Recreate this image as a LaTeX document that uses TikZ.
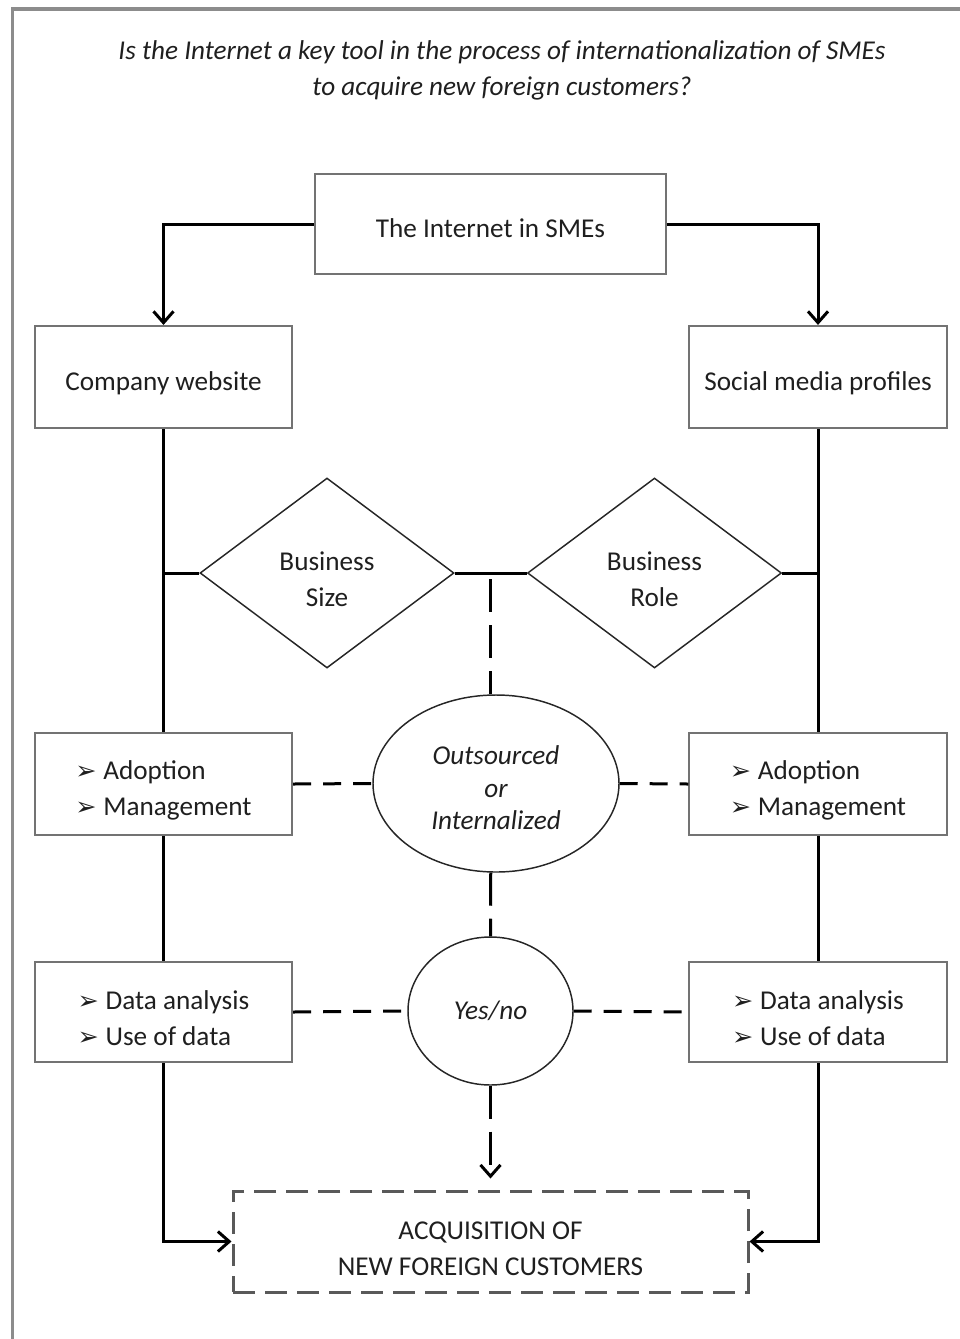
\documentclass[tikz,border=0pt]{standalone}
\usepackage{fontspec}
\setmainfont{Carlito}
\newfontfamily\dejavu{DejaVu Sans}
\usetikzlibrary{shapes.geometric,arrows.meta,calc}
\newcommand{\bulx}{\smash{\dejavu\fontsize{19}{19}\selectfont ➢}\hspace{5pt}}
\newcommand{\dn}{\rule{0pt}{24pt}}
\begin{document}
\begin{tikzpicture}[x=0.75pt,y=-0.75pt,
  every node/.style={font=\fontsize{20.4}{27}\selectfont, text=black!88},
  box/.style={draw=black!55, line width=1.6pt, rectangle, inner sep=2pt},
  sidebox/.style={box, minimum width=193pt, minimum height=76.5pt},
  dec/.style={draw=black!85, line width=1.1pt, diamond, inner sep=0pt, minimum width=190.5pt, minimum height=142.5pt, align=center},
  oval/.style={draw=black!85, line width=1.1pt, ellipse, inner sep=0pt, align=center, font=\fontsize{20.4}{27}\selectfont\itshape},
  conn/.style={draw=black, line width=2.25pt},
  tip/.style={-{Straight Barb[length=8.5pt,width=15pt]}},
  dshh/.style={draw=black, line width=2.25pt, dash pattern=on 13.5pt off 9pt},
  dshv/.style={draw=black, line width=2.25pt, dash pattern=on 24.75pt off 9.75pt}
]
\useasboundingbox (0,0) rectangle (960,1339);
\draw[draw=black!45, line width=2.4pt] (12.5,1345) -- (12.5,9) -- (965,9);

\node[align=center, font=\fontsize{20.4}{27}\selectfont\itshape] (title) at (502,70.5)
  {Is the Internet a key tool in the process of internationalization of SMEs\\to acquire new foreign customers?};

\node[box, minimum width=263.25pt, minimum height=75pt] (top) at (490.5,224) {\rule{0pt}{21pt}The Internet in SMEs};
\node[sidebox] (cw) at (163.5,377) {\dn Company website};
\node[sidebox] (sm) at (818,377) {\dn Social media profiles};

\node[dec] (bs) at (327,573) {\dn Business\\Size};
\node[dec] (br) at (654.5,573) {\dn Business\\Role};

\node[oval, minimum width=184.5pt, minimum height=132.75pt, font=\fontsize{20.4}{24.4}\selectfont\itshape] (oi) at (496,783.5) {\rule{0pt}{20.5pt}Outsourced\\or\\Internalized};
\node[oval, minimum width=123.75pt, minimum height=111pt] (yn) at (490.5,1011) {Yes/no};

\node[sidebox, align=left] (ad1) at (163.5,784) {\dn\bulx Adoption\\\bulx Management};
\node[sidebox, align=left] (ad2) at (818,784) {\dn\bulx Adoption\\\bulx Management};
\node[sidebox, minimum height=75pt, align=left] (da1) at (163.5,1012) {\dn\bulx Data analysis\\\bulx Use of data};
\node[sidebox, minimum height=75pt, align=left] (da2) at (818,1012) {\dn\bulx Data analysis\\\bulx Use of data};

\node[draw=black!65, line width=2.25pt, dash pattern=on 16.5pt off 7.5pt, minimum width=386.25pt, minimum height=75.75pt, align=center] (acq) at (490.5,1241.5) {\dn ACQUISITION OF\\NEW FOREIGN CUSTOMERS};

% solid connectors
\draw[conn, tip] (top.west) -| (cw.north);
\draw[conn, tip] (top.east) -| (sm.north);
\draw[conn] (cw.south) -- (ad1.north);
\draw[conn] (sm.south) -- (ad2.north);
\draw[conn] (ad1.south) -- (da1.north);
\draw[conn] (ad2.south) -- (da2.north);
\draw[conn, tip] (da1.south) |- (acq.west);
\draw[conn, tip] (da2.south) |- (acq.east);
\draw[conn] (cw.south |- bs.west) -- (bs.west);
\draw[conn] (bs.east) -- (br.west);
\draw[conn] (br.east) -- (sm.south |- br.east);

% dashed connectors
\coordinate (mid) at ($(bs.east)!0.5!(br.west)$);
\draw[dshv] ($(mid)+(0,6)$) -- (mid |- oi.north);
\draw[dshv] (mid |- oi.south) -- (yn.north);
\draw[dshv, tip] (yn.south) -- ($(acq.north)+(0,-11)$);
\draw[dshh] (ad1.east) -- (oi.west);
\draw[dshh] (oi.east) -- (ad2.west);
\draw[dshh] (da1.east) -- (yn.west);
\draw[dshh] (yn.east) -- (da2.west);
\end{tikzpicture}
\end{document}
